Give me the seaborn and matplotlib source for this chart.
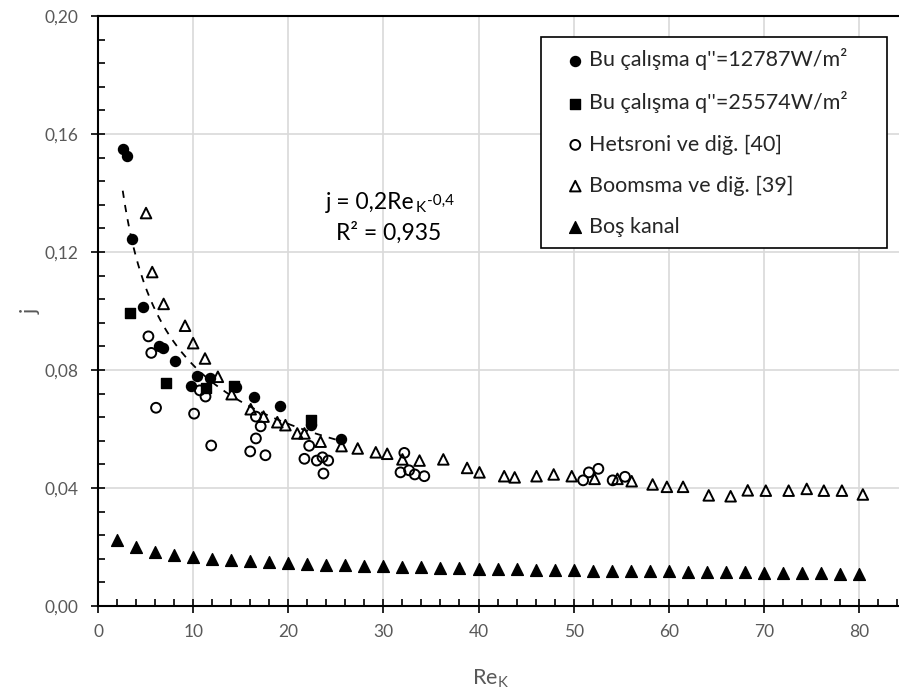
import numpy as np
import pandas as pd
import matplotlib
matplotlib.use("Agg")
import matplotlib.pyplot as plt
import seaborn as sns
from matplotlib.ticker import MultipleLocator, FuncFormatter

# ---------------- data ----------------
s1_label = "Bu çalışma q''=12787W/m²"
s1_x = [2.6, 3.0, 3.6, 4.7, 6.4, 6.8, 8.1, 9.8, 10.4, 11.8, 14.5, 16.4, 19.1, 22.4, 25.5]
s1_y = [0.1550, 0.1525, 0.1243, 0.1012, 0.0882, 0.0873, 0.0830, 0.0745, 0.0778, 0.0774,
        0.0742, 0.0707, 0.0677, 0.0612, 0.0566]

s2_label = "Bu çalışma q''=25574W/m²"
s2_x = [3.4, 7.2, 11.4, 14.3, 22.4]
s2_y = [0.0992, 0.0757, 0.0738, 0.0745, 0.0631]

h_label = "Hetsroni ve diğ. [40]"
h_x = [5.3, 5.6, 6.1, 10.1, 10.7, 11.3, 11.9, 16.6, 17.1, 16.6, 16.0, 17.6, 22.2, 21.7,
       23.0, 23.6, 24.2, 23.7, 32.2, 31.8, 32.7, 33.3, 34.3, 51.0, 51.6, 52.6, 54.1, 55.4]
h_y = [0.0914, 0.0858, 0.0672, 0.0652, 0.0731, 0.0710, 0.0544, 0.0642, 0.0609, 0.0568,
       0.0524, 0.0511, 0.0543, 0.0499, 0.0493, 0.0504, 0.0493, 0.0449, 0.0519, 0.0453,
       0.0460, 0.0446, 0.0440, 0.0426, 0.0453, 0.0465, 0.0426, 0.0438]

b_label = "Boomsma ve diğ. [39]"
b_x = [5.05, 5.7, 6.9, 9.15, 10.0, 11.25, 12.6, 14.05, 16.05, 17.4, 18.85, 19.7, 20.95,
       21.7, 23.4, 25.6, 27.3, 29.2, 30.4, 32.0, 33.8, 36.3, 38.8, 40.1, 42.7, 43.8, 46.1,
       47.9, 49.8, 52.2, 54.6, 56.1, 58.3, 59.8, 61.5, 64.2, 66.5, 68.3, 70.2, 72.6, 74.5,
       76.3, 78.2, 80.4]
b_y = [0.1332, 0.1132, 0.1024, 0.0950, 0.0891, 0.0839, 0.0777, 0.0718, 0.0667, 0.0642,
       0.0623, 0.0613, 0.0585, 0.0585, 0.0557, 0.0542, 0.0534, 0.0521, 0.0516, 0.0497,
       0.0493, 0.0497, 0.0468, 0.0453, 0.0440, 0.0436, 0.0440, 0.0446, 0.0440, 0.0431,
       0.0431, 0.0423, 0.0412, 0.0404, 0.0404, 0.0375, 0.0372, 0.0392, 0.0391, 0.0391,
       0.0397, 0.0391, 0.0391, 0.0378]

e_label = "Boş kanal"
e_x = [2, 4, 6, 8, 10, 12, 14, 16, 18, 20, 22, 24, 26, 28, 30, 32, 34, 36, 38, 40,
       42, 44, 46, 48, 50, 52, 54, 56, 58, 60, 62, 64, 66, 68, 70, 72, 74, 76, 78, 80]
e_y = [0.0225, 0.0200, 0.0183, 0.0173, 0.0166, 0.0160, 0.0155, 0.0151, 0.0148, 0.0145,
       0.0142, 0.0140, 0.0138, 0.0136, 0.0134, 0.0132, 0.0131, 0.0129, 0.0128, 0.0127,
       0.0125, 0.0124, 0.0123, 0.0122, 0.0121, 0.0120, 0.0119, 0.0118, 0.0117, 0.0117,
       0.0116, 0.0115, 0.0114, 0.0114, 0.0113, 0.0112, 0.0112, 0.0111, 0.0110, 0.0110]

fit_main = "j = 0,2Re"
fit_sub = "K"
fit_sup = "-0,4"
fit_r2 = "R² = 0,935"
x_label = "Re$_\\mathrm{K}$"
y_label = "j"

# ---------------- style ----------------
sns.set_theme(style="white")
plt.rcParams["font.family"] = ["Lato", "DejaVu Sans"]
plt.rcParams["mathtext.fontset"] = "custom"
plt.rcParams["mathtext.rm"] = "Lato"
plt.rcParams["mathtext.it"] = "Lato:italic"
plt.rcParams["mathtext.bf"] = "Lato:bold"

fig = plt.figure(figsize=(8.99, 6.93), dpi=100)
ax = fig.add_axes([98 / 899, 87 / 693, 801 / 899, 590 / 693])

sns.scatterplot(x=s1_x, y=s1_y, marker="o", s=52, color="black", edgecolor="black",
                linewidth=1, label=s1_label, ax=ax, zorder=3)
sns.scatterplot(x=s2_x, y=s2_y, marker="s", s=56, color="black", edgecolor="black",
                linewidth=1, label=s2_label, ax=ax, zorder=3)
sns.scatterplot(x=h_x, y=h_y, marker="o", s=50, color="black", facecolors="none",
                edgecolor="black", linewidth=1.4, label=h_label, ax=ax, zorder=3)
sns.scatterplot(x=b_x, y=b_y, marker="^", s=58, color="black", facecolors="none",
                edgecolor="black", linewidth=1.4, label=b_label, ax=ax, zorder=3)
sns.scatterplot(x=e_x, y=e_y, marker="^", s=72, color="black", edgecolor="black",
                linewidth=1, label=e_label, ax=ax, zorder=3)

# power-law trendline fitted to the first series (as the spreadsheet did)
lx, ly = np.log(np.array(s1_x)), np.log(np.array(s1_y))
b_exp, log_a = np.polyfit(lx, ly, 1)
tx = np.linspace(min(s1_x), max(s1_x), 200)
ty = np.exp(log_a) * tx ** b_exp
sns.lineplot(x=tx, y=ty, color="black", linestyle=(0, (4, 4)), linewidth=1.3, ax=ax,
             zorder=2, label="_nolegend_")

ax.set_xlim(0, 84.2)
ax.set_ylim(0, 0.20)
ax.xaxis.set_major_locator(MultipleLocator(10))
ax.xaxis.set_minor_locator(MultipleLocator(2))
ax.yaxis.set_major_locator(MultipleLocator(0.04))
ax.yaxis.set_minor_locator(MultipleLocator(0.008))
ax.xaxis.set_major_formatter(FuncFormatter(lambda v, p: f"{v:.0f}"))
ax.yaxis.set_major_formatter(FuncFormatter(lambda v, p: f"{v:.2f}".replace(".", ",")))
ax.xaxis.set_ticks_position("bottom")
ax.yaxis.set_ticks_position("left")
ax.tick_params(which="major", direction="inout", length=10, width=1.2, color="black",
               labelsize=12.5, labelcolor="#595959")
ax.tick_params(axis="x", which="major", pad=8)
ax.tick_params(axis="y", which="major", pad=9)
ax.tick_params(which="minor", direction="in", length=5, width=1.2, color="black")
ax.grid(True, which="major", color="#d9d9d9", linewidth=1.2, zorder=0)
ax.set_axisbelow(True)
for side in ["left", "bottom", "top"]:
    ax.spines[side].set_visible(True)
    ax.spines[side].set_color("black")
    ax.spines[side].set_linewidth(1.5)
ax.spines["right"].set_visible(False)

ax.set_xlabel(x_label, fontsize=15.5, color="#595959")
ax.set_ylabel(y_label, fontsize=15.5, color="#595959")
ax.xaxis.set_label_coords((490 - 98) / 801, (606 - 668) / 590)
ax.yaxis.set_label_coords((41 - 98) / 801, 0.5)

# trendline equation: main text, subscript K, superscript exponent (chained)
t_main = ax.text(24.0, 0.1345, fit_main, fontsize=16.5, color="black",
                 ha="left", va="baseline")
t_sub = ax.annotate(fit_sub, xy=(1, 0), xycoords=t_main, xytext=(0.5, -1.5),
                    textcoords="offset points", fontsize=11, color="black",
                    ha="left", va="bottom")
t_sup = ax.annotate(fit_sup, xy=(1, 1), xycoords=(t_sub, t_main), xytext=(0.8, -1.0),
                    textcoords="offset points", fontsize=11, color="black",
                    ha="left", va="top")
ax.text(30.6, 0.1265, fit_r2, fontsize=16.5, color="black", ha="center", va="center")

handles, labels = ax.get_legend_handles_labels()
keep = [(h, l) for h, l in zip(handles, labels) if not l.startswith("_")]
leg = ax.legend([k[0] for k in keep], [k[1] for k in keep], loc="upper left",
                bbox_to_anchor=(0.553, 0.0, 0.432, 0.9644), mode="expand",
                borderaxespad=0, fontsize=15.5, frameon=True, fancybox=False,
                edgecolor="black", framealpha=1, handlelength=2.15, handletextpad=-0.45,
                labelspacing=0.98, borderpad=0.52, markerscale=1.0)
leg.get_frame().set_linewidth(1.2)

fig.savefig("out.png", dpi=100)
